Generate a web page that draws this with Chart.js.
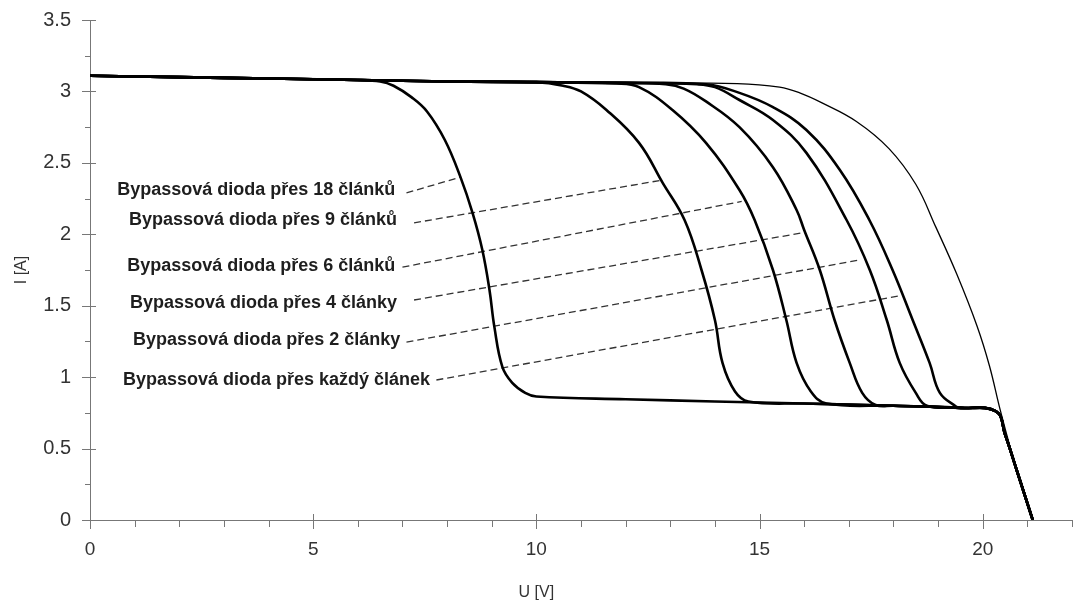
<!DOCTYPE html>
<html>
<head>
  <meta charset="utf-8">
  <title>VA charakteristika s bypassovými diodami</title>
  <script src="https://cdn.jsdelivr.net/npm/chart.js"></script>
  <style>
    body { margin: 0; background: #fff; }
    #graphCanvas { display: block; }
  </style>
</head>
<body>
  <canvas id="graphCanvas" width="1077" height="607"></canvas>

<script>
// body [U, I] odečtené z obrázku
// společná horní větev (nezastíněný stav) a spodní větev (zastíněný článek)
let horniVetev = [[0, 3.11], [2, 3.10], [4, 3.09], [6, 3.08], [8, 3.07], [10, 3.065], [12, 3.06], [14, 3.055]];
let spodniVetev = [[10, 0.865], [12, 0.845], [14, 0.83], [16, 0.815], [18, 0.80], [19.5, 0.785],
                   [20.3, 0.76], [20.5, 0.6], [20.76, 0.35], [21.12, 0]];

// přechod mezi větvemi pro jednotlivé varianty
let pres18 = [[6.5, 3.07], [6.8, 3.04], [7.2, 2.96], [7.55, 2.86], [7.95, 2.66], [8.3, 2.40], [8.57, 2.15],
              [8.79, 1.89], [8.95, 1.61], [9.06, 1.35], [9.24, 1.07], [9.46, 0.96], [9.75, 0.89]];
let pres9 = [[10.6, 3.04], [11.0, 3.0], [11.57, 2.87], [12.3, 2.64], [12.83, 2.36], [13.32, 2.10], [13.7, 1.75],
             [14.0, 1.40], [14.17, 1.10], [14.45, 0.90], [14.75, 0.83]];
let pres6 = [[11.8, 3.055], [12.3, 3.03], [13.05, 2.87], [13.8, 2.64], [14.55, 2.31], [14.89, 2.10], [15.3, 1.75],
             [15.6, 1.40], [15.83, 1.10], [16.15, 0.90], [16.5, 0.815]];
let pres4 = [[12.9, 3.05], [13.3, 3.02], [13.8, 2.93], [14.55, 2.75], [15.3, 2.47], [15.83, 2.17], [16.0, 2.03],
             [16.35, 1.75], [16.68, 1.40], [17.02, 1.10], [17.3, 0.89], [17.6, 0.805]];
let pres2 = [[13.6, 3.05], [14.0, 3.03], [14.55, 2.94], [15.3, 2.80], [16.05, 2.57], [16.95, 2.10],
             [17.47, 1.75], [17.85, 1.40], [18.14, 1.10], [18.5, 0.89], [18.75, 0.80]];
let presKazdy = [[13.8, 3.05], [14.55, 2.99], [15.3, 2.89], [16.05, 2.73], [16.8, 2.45], [17.46, 2.10], [17.98, 1.75],
                 [18.43, 1.40], [18.81, 1.10], [19.04, 0.89], [19.4, 0.795]];

// bez zastínění (tenká čára)
let bezStinu = [[0, 3.11], [2, 3.10], [4, 3.09], [6, 3.08], [8, 3.07], [10, 3.065], [12, 3.06], [14.5, 3.055],
                [15.45, 3.03], [15.9, 2.99], [16.4, 2.92], [17.17, 2.79], [17.9, 2.60], [18.5, 2.35], [18.95, 2.05],
                [19.42, 1.72], [19.87, 1.36], [20.15, 1.08], [20.4, 0.76], [20.76, 0.35], [21.12, 0]];

// popisky a odkazové čáry
let popisky = ['Bypassová dioda přes 18 článků', 'Bypassová dioda přes 9 článků', 'Bypassová dioda přes 6 článků',
               'Bypassová dioda přes 4 články', 'Bypassová dioda přes 2 články', 'Bypassová dioda přes každý článek'];
let popiskyU = [6.84, 6.88, 6.84, 6.88, 6.95, 7.62];
let popiskyI = [2.31, 2.10, 1.78, 1.52, 1.26, 0.98];
let odkazOd = [[7.09, 2.29], [7.26, 2.08], [7.0, 1.77], [7.26, 1.54], [7.09, 1.245], [7.76, 0.98]];
let odkazDo = [[8.3, 2.40], [12.83, 2.38], [14.6, 2.23], [15.96, 2.01], [17.24, 1.82], [18.14, 1.57]];

let osaX = 'U [V]';
let osaY = 'I [A]';

const pismo = "'Liberation Sans', Arial, sans-serif";

// složí celou křivku z horní větve, přechodu a spodní větve
function krivka(prechod) {
  let u0 = prechod[0][0];
  let u1 = prechod[prechod.length - 1][0];
  return horniVetev.filter(p => p[0] < u0)
    .concat(prechod)
    .concat(spodniVetev.filter(p => p[0] > u1));
}

function body(pole) {
  return pole.map(p => ({ x: p[0], y: p[1] }));
}

let datasets = [];
datasets.push({
  data: body(bezStinu), showLine: true, borderColor: '#000', borderWidth: 1.3,
  pointRadius: 0, tension: 0.4
});
[pres18, pres9, pres6, pres4, pres2, presKazdy].forEach(p => {
  datasets.push({
    data: body(krivka(p)), showLine: true, borderColor: '#000', borderWidth: 2.6,
    pointRadius: 0, tension: 0.4
  });
});
for (let i = 0; i < odkazOd.length; i++) {
  datasets.push({
    data: body([odkazOd[i], odkazDo[i]]), showLine: true, borderColor: '#333', borderWidth: 1.3,
    borderDash: [7, 4], pointRadius: 0
  });
}

// malé a velké značky na osách, názvy os a popisky
const znacky = {
  id: 'znacky',
  afterDraw(chart) {
    const { ctx, scales: { x, y } } = chart;
    ctx.save();
    ctx.strokeStyle = '#777';
    ctx.lineWidth = 1;
    ctx.beginPath();
    for (let u = 0; u <= 22; u++) {
      let px = Math.round(x.getPixelForValue(u)) + 0.5;
      let velka = u % 5 === 0;
      ctx.moveTo(px, y.bottom - (velka ? 6 : 0));
      ctx.lineTo(px, y.bottom + (velka ? 9 : 7));
    }
    for (let k = 0; k <= 14; k++) {
      let py = Math.round(y.getPixelForValue(k * 0.25)) + 0.5;
      let velka = k % 2 === 0;
      ctx.moveTo(x.left - (velka ? 8 : 5), py);
      ctx.lineTo(x.left + (velka ? 6 : 0), py);
    }
    ctx.stroke();

    ctx.fillStyle = '#333';
    ctx.font = '16px ' + pismo;
    ctx.textAlign = 'center';
    ctx.textBaseline = 'middle';
    ctx.fillText(osaX, x.getPixelForValue(10), 593);
    ctx.translate(22, (y.top + y.bottom) / 2);
    ctx.rotate(-Math.PI / 2);
    ctx.fillText(osaY, 0, 0);
    ctx.restore();

    ctx.save();
    ctx.fillStyle = '#1e1e1e';
    ctx.font = 'bold 18px ' + pismo;
    ctx.textAlign = 'right';
    ctx.textBaseline = 'middle';
    for (let i = 0; i < popisky.length; i++) {
      ctx.fillText(popisky[i], x.getPixelForValue(popiskyU[i]), y.getPixelForValue(popiskyI[i]));
    }
    ctx.restore();
  }
};

let chart = new Chart(document.getElementById('graphCanvas'), {
  type: 'scatter',
  data: { datasets: datasets },
  options: {
    responsive: false,
    animation: false,
    layout: { padding: { left: 0, right: 5, top: 20, bottom: 0 } },
    plugins: { legend: { display: false }, tooltip: { enabled: false } },
    scales: {
      x: {
        type: 'linear', min: 0, max: 22,
        border: { color: '#777', width: 1 },
        grid: { display: false, drawTicks: false },
        ticks: {
          stepSize: 5, padding: 18, color: '#333', maxRotation: 0,
          font: { family: pismo, size: 19 },
          callback: v => (v % 5 === 0 ? String(v) : '')
        },
        afterFit: s => { s.height = 87; s.paddingLeft = 0; s.paddingRight = 0; }
      },
      y: {
        type: 'linear', min: 0, max: 3.5,
        border: { color: '#777', width: 1 },
        grid: { display: false, drawTicks: false },
        ticks: {
          stepSize: 0.5, padding: 19, color: '#333',
          font: { family: pismo, size: 20 },
          callback: v => String(v)
        },
        afterFit: s => { s.width = 90; s.paddingTop = 0; s.paddingBottom = 0; }
      }
    }
  },
  plugins: [znacky]
});
</script>
</body>
</html>
